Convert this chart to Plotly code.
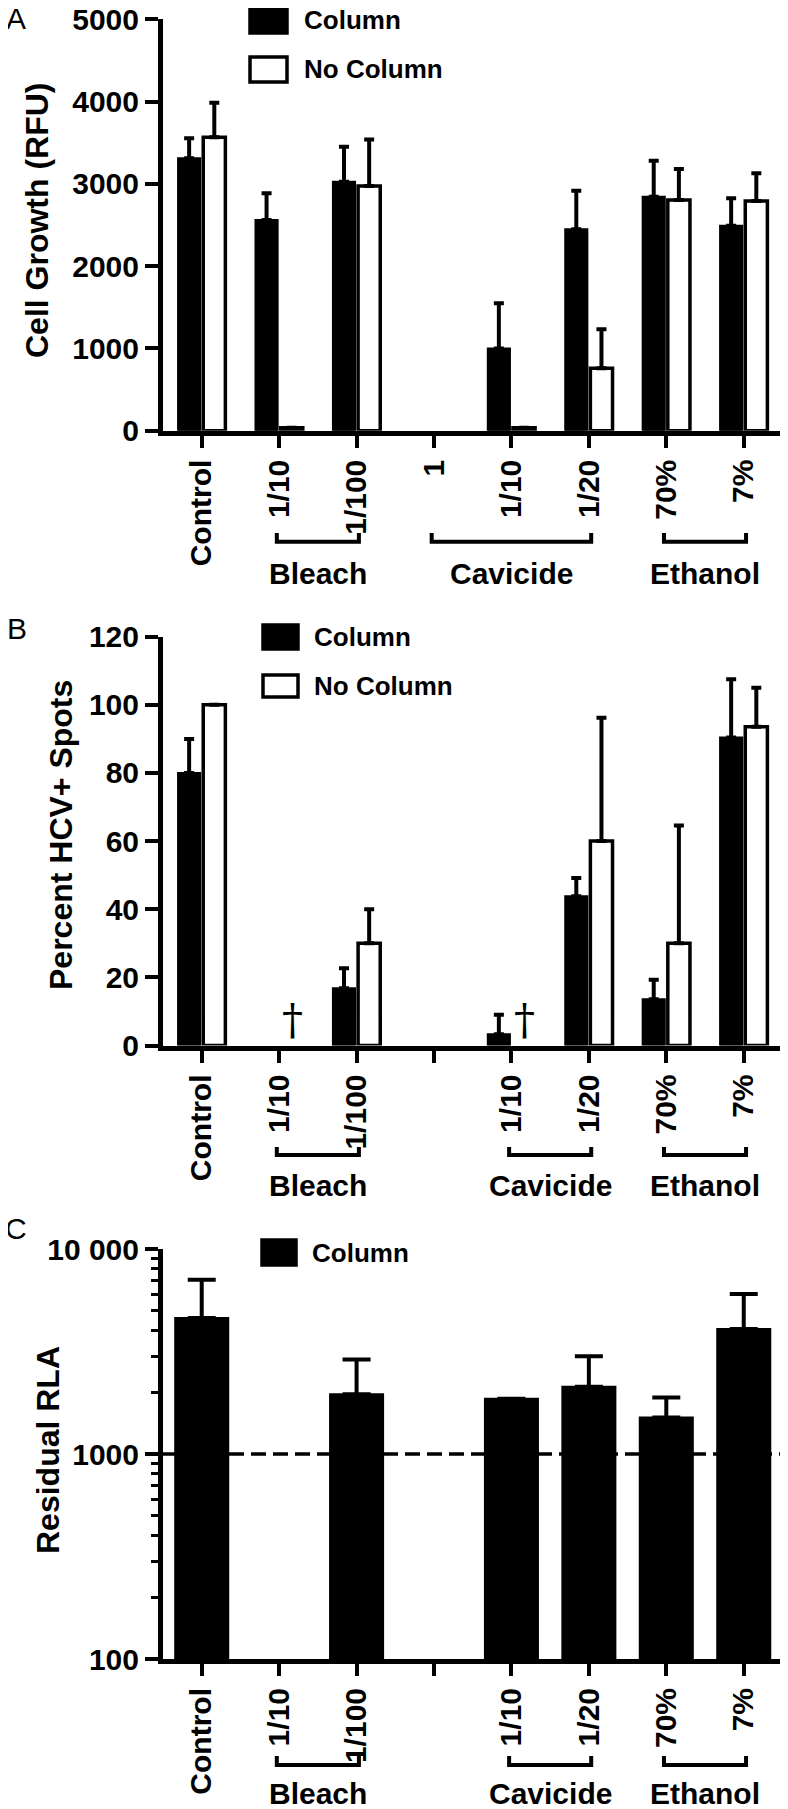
import plotly.graph_objects as go

# the page body adds an 8px margin, so the figure is drawn 8px smaller and shifted
PAGE_W, PAGE_H, OFF = 788, 1809, 8
W, H = PAGE_W - OFF, PAGE_H - OFF
FONT = "Liberation Sans, Arial, sans-serif"

# categories (x tick labels)
labels_a = ["Control", "1/10", "1/100", "1", "1/10", "1/20", "70%", "7%"]
labels_bc = ["Control", "1/10", "1/100", "", "1/10", "1/20", "70%", "7%"]
group_names = ["Bleach", "Cavicide", "Ethanol"]
group_span_a = [(1, 2), (3, 5), (6, 7)]
group_span_bc = [(1, 2), (4, 5), (6, 7)]

# Panel A - cell growth (RFU), upper error only
a_column = [3310, 2560, 3025, None, 1000, 2447, 2843, 2491]
a_column_err = [243, 325, 425, None, 548, 469, 438, 333]
a_nocolumn = [3565, 35, 2973, None, 35, 758, 2803, 2791]
a_nocolumn_err = [420, None, 567, None, None, 474, 377, 337]

# Panel B - percent HCV+ spots
b_column = [80, None, 16.8, None, 3.3, 43.8, 13.6, 90.4]
b_column_err = [10, None, 5.9, None, 5.7, 5.4, 5.7, 17.1]
b_nocolumn = [100, None, 30, None, None, 60, 30, 93.6]
b_nocolumn_err = [None, None, 10, None, None, 36.2, 34.6, 11.4]
b_dagger = [1, 4]  # no-column samples marked with a dagger

# Panel C - residual RLA (log scale)
c_column = [4610, None, 1955, None, 1862, 2131, 1507, 4075]
c_column_err = [2460, None, 935, None, None, 869, 378, 1955]
c_threshold = 1000


def xp(p):
    return (p - OFF) / W


def yp(p):
    return 1 - (p - OFF) / H


def bold(size):
    return dict(family=FONT, size=size, color="black", weight="bold")


def upper_err(err, width):
    return dict(type="data", symmetric=False, array=err, arrayminus=[0] * len(err),
                color="black", thickness=4, width=width, visible=True)


xs = list(range(len(labels_a)))

fig = go.Figure()

# Panel A
fig.add_trace(go.Bar(x=xs, y=a_column, name="Column", xaxis="x", yaxis="y",
                     marker=dict(color="black", line=dict(color="black", width=2)),
                     error_y=upper_err(a_column_err, 5)))
fig.add_trace(go.Bar(x=xs, y=a_nocolumn, name="No Column", xaxis="x", yaxis="y",
                     marker=dict(color="white", line=dict(color="black", width=3.5)),
                     error_y=upper_err(a_nocolumn_err, 5)))
# Panel B
fig.add_trace(go.Bar(x=xs, y=b_column, name="Column", xaxis="x2", yaxis="y2",
                     marker=dict(color="black", line=dict(color="black", width=2)),
                     error_y=upper_err(b_column_err, 5)))
fig.add_trace(go.Bar(x=xs, y=b_nocolumn, name="No Column", xaxis="x2", yaxis="y2",
                     marker=dict(color="white", line=dict(color="black", width=3.5)),
                     error_y=upper_err(b_nocolumn_err, 5)))
# Panel C
fig.add_trace(go.Bar(x=xs, y=c_column, name="Column", xaxis="x3", yaxis="y3", width=0.685,
                     marker=dict(color="black", line=dict(color="black", width=2)),
                     error_y=upper_err(c_column_err, 14)))

x_dom = [xp(163), xp(784)]
x_range = [-0.5, 7.52]


def xaxis(anchor, ticktext):
    return dict(domain=x_dom, range=x_range, anchor=anchor, tickmode="array",
                tickvals=xs, ticktext=ticktext, tickangle=-90, ticks="outside",
                ticklen=12, tickwidth=4, tickcolor="black", showline=True, linewidth=5,
                linecolor="black", showgrid=False, zeroline=False, tickfont=bold(30),
                automargin=False, fixedrange=True, ticklabeloverflow="allow")


def yaxis(anchor, dom, **kw):
    d = dict(domain=dom, anchor=anchor, ticks="outside", ticklen=13, tickwidth=4,
             tickcolor="black", showline=True, linewidth=5, linecolor="black",
             showgrid=False, zeroline=False, tickfont=bold(30), automargin=False,
             ticklabeloverflow="allow")
    d.update(kw)
    return d


fig.update_layout(
    width=W, height=H, margin=dict(l=0, r=0, t=0, b=0),
    paper_bgcolor="white", plot_bgcolor="white", showlegend=False,
    barmode="group", bargap=0.35, bargroupgap=0.12,
    xaxis=xaxis("y", labels_a),
    xaxis2=xaxis("y2", labels_bc),
    xaxis3=xaxis("y3", labels_bc),
    yaxis=yaxis("x", [yp(430.7), yp(19.3)], range=[0, 5000], dtick=1000),
    yaxis2=yaxis("x2", [yp(1045.5), yp(636.7)], range=[0, 120], dtick=20),
    yaxis3=yaxis("x3", [yp(1659), yp(1249)], type="log", range=[2, 4],
                 tickmode="array", tickvals=[100, 1000, 10000],
                 ticktext=["100", "1000", "10 000"],
                 minor=dict(ticks="outside", ticklen=7, tickwidth=3, tickcolor="black",
                            dtick="D1", showgrid=False)),
)

ann = []
shapes = []


def label(text, x, y, font, xref="paper", yref="paper", **kw):
    d = dict(text=text, x=x, y=y, xref=xref, yref=yref, showarrow=False, font=font,
             xanchor="center", yanchor="middle")
    d.update(kw)
    ann.append(d)


# panel letters and y titles
for letter, (lx, ly) in zip("ABC", [(16, 19), (17, 628), (16, 1228)]):
    label(letter, xp(lx), yp(ly), dict(family=FONT, size=30, color="black"))
for title, (tx, ty) in zip(["Cell Growth (RFU)", "Percent HCV+ Spots", "Residual RLA"],
                           [(37, 220), (61, 835), (48, 1450)]):
    label(title, xp(tx), yp(ty), bold(32), textangle=-90)

# brackets and group labels
for xref, spans, ytop, yh, ylab in [("x", group_span_a, 533, 541.7, 574),
                                     ("x2", group_span_bc, 1147, 1155, 1185),
                                     ("x3", group_span_bc, 1756, 1765, 1793)]:
    for name, (a, b) in zip(group_names, spans):
        x0, x1 = a - 0.03, b + 0.03
        shapes.append(dict(type="path", xref=xref, yref="paper",
                           path=f"M {x0},{yp(ytop)} L {x0},{yp(yh)} L {x1},{yp(yh)} L {x1},{yp(ytop)}",
                           line=dict(color="black", width=4)))
        label(name, (a + b) / 2, yp(ylab), bold(30), xref=xref)

# daggers (no-column samples with no spots)
for i in b_dagger:
    label("†", i + 0.17, 0, dict(family="DejaVu Serif, serif", size=42, color="black"),
          xref="x2", yref="y2", yanchor="bottom", yshift=0)

# legends
legend_rows = [
    (250, 287, [(7, 33, "black", "Column"), (57, 82, "white", "No Column")], 302),
    (263, 298, [(625, 649, "black", "Column"), (675, 697, "white", "No Column")], 312),
    (262, 296, [(1240, 1265, "black", "Column")], 310),
]
for lx0, lx1, rows, tx in legend_rows:
    for y0, y1, fill, name in rows:
        shapes.append(dict(type="rect", xref="paper", yref="paper",
                           x0=xp(lx0), x1=xp(lx1), y0=yp(y1), y1=yp(y0),
                           fillcolor=fill, line=dict(color="black", width=3.5)))
        label(name, xp(tx), yp((y0 + y1) / 2), bold(26), xanchor="left")

# threshold line in panel C (log axis shapes take data values)
shapes.append(dict(type="line", xref="x3 domain", yref="y3", x0=0, x1=1,
                   y0=c_threshold, y1=c_threshold,
                   line=dict(color="black", width=3.5, dash="15px,7px")))

fig.update_layout(annotations=ann, shapes=shapes)

fig.write_html("out.html")
